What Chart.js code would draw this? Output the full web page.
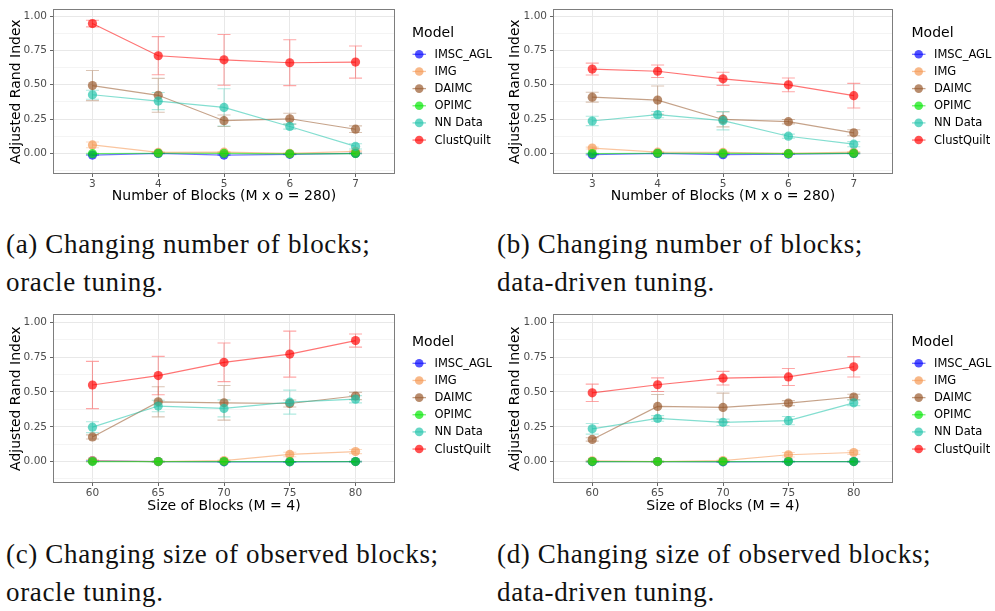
<!DOCTYPE html>
<html><head><meta charset="utf-8">
<script src="https://cdn.jsdelivr.net/npm/chart.js@4.4.1/dist/chart.umd.min.js"></script>
<style>
body{margin:0;background:#fff;width:995px;height:611px;position:relative;overflow:hidden;}
canvas{position:absolute;}
.cap{position:absolute;font-family:"Liberation Serif",serif;font-size:27px;letter-spacing:0.65px;color:#111;line-height:38px;white-space:nowrap;}
</style></head><body>
<canvas id="ca" width="495" height="207" style="left:0;top:0"></canvas>
<canvas id="cb" width="500" height="207" style="left:495px;top:0"></canvas>
<canvas id="cc" width="495" height="212" style="left:0;top:305px"></canvas>
<canvas id="cd" width="500" height="212" style="left:495px;top:305px"></canvas>
<div class="cap" style="left:6px;top:225px">(a) Changing number of blocks;<br>oracle tuning.</div>
<div class="cap" style="left:497px;top:225px">(b) Changing number of blocks;<br>data-driven tuning.</div>
<div class="cap" style="left:6px;top:535px">(c) Changing size of observed blocks;<br>oracle tuning.</div>
<div class="cap" style="left:497px;top:535px">(d) Changing size of observed blocks;<br>data-driven tuning.</div>
<script>
// ---------- data ----------
const models = ['IMSC_AGL', 'IMG', 'DAIMC', 'OPIMC', 'NN Data', 'ClustQuilt'];
const blockCounts = [3, 4, 5, 6, 7];
const blockSizes = [60, 65, 70, 75, 80];
const yMajorTicks = [0, 0.25, 0.5, 0.75, 1];
const yMinorTicks = [-0.125, 0.125, 0.375, 0.625, 0.875];

// (a) number of blocks, oracle tuning: means and sd (error half-width)
const aIMSC  = [-0.012, 0.000, -0.012, -0.007, 0.000];
const aIMG   = [0.062, 0.007, 0.009, 0.000, 0.014];
const aDAIMC = [0.494, 0.423, 0.238, 0.252, 0.176];
const aOPIMC = [-0.002, 0.001, 0.000, -0.003, -0.001];
const aNN    = [0.427, 0.381, 0.335, 0.196, 0.051];
const aCQ    = [0.945, 0.711, 0.681, 0.660, 0.665];
const aIMSCsd  = [0.003, 0.002, 0.003, 0.002, 0.002];
const aIMGsd   = [0.021, 0.004, 0.004, 0.003, 0.004];
const aDAIMCsd = [0.110, 0.123, 0.042, 0.040, 0.024];
const aOPIMCsd = [0.002, 0.002, 0.002, 0.002, 0.002];
const aNNsd    = [0.033, 0.062, 0.136, 0.019, 0.019];
const aCQsd    = [0.024, 0.139, 0.185, 0.167, 0.117];

// (b) number of blocks, data-driven tuning
const bIMSC  = [-0.009, 0.000, -0.009, -0.005, 0.000];
const bIMG   = [0.039, 0.009, 0.007, 0.000, 0.009];
const bDAIMC = [0.409, 0.388, 0.247, 0.231, 0.150];
const bOPIMC = [-0.001, 0.001, 0.000, -0.002, 0.000];
const bNN    = [0.236, 0.282, 0.238, 0.125, 0.067];
const bCQ    = [0.614, 0.598, 0.543, 0.499, 0.420];
const bIMSCsd  = [0.002, 0.002, 0.002, 0.002, 0.002];
const bIMGsd   = [0.007, 0.004, 0.004, 0.003, 0.004];
const bDAIMCsd = [0.036, 0.103, 0.054, 0.016, 0.022];
const bOPIMCsd = [0.002, 0.002, 0.002, 0.002, 0.002];
const bNNsd    = [0.034, 0.023, 0.067, 0.015, 0.019];
const bCQsd    = [0.043, 0.046, 0.048, 0.050, 0.090];

// (c) size of blocks, oracle tuning
const cIMSC  = [0.005, 0.000, -0.002, -0.002, 0.000];
const cIMG   = [0.007, 0.000, 0.007, 0.051, 0.072];
const cDAIMC = [0.177, 0.429, 0.422, 0.417, 0.471];
const cOPIMC = [0.000, 0.000, 0.000, -0.001, 0.000];
const cNN    = [0.247, 0.399, 0.382, 0.427, 0.448];
const cCQ    = [0.550, 0.618, 0.713, 0.772, 0.869];
const cIMSCsd  = [0.002, 0.002, 0.002, 0.002, 0.002];
const cIMGsd   = [0.008, 0.002, 0.004, 0.016, 0.015];
const cDAIMCsd = [0.015, 0.108, 0.124, 0.025, 0.026];
const cOPIMCsd = [0.002, 0.002, 0.002, 0.002, 0.002];
const cNNsd    = [0.039, 0.041, 0.061, 0.086, 0.026];
const cCQsd    = [0.170, 0.138, 0.139, 0.165, 0.047];

// (d) size of blocks, data-driven tuning
const dIMSC  = [0.000, 0.000, -0.002, 0.000, 0.000];
const dIMG   = [0.005, 0.000, 0.007, 0.049, 0.065];
const dDAIMC = [0.159, 0.396, 0.389, 0.420, 0.464];
const dOPIMC = [0.000, 0.000, 0.000, 0.000, 0.000];
const dNN    = [0.235, 0.310, 0.282, 0.294, 0.422];
const dCQ    = [0.494, 0.552, 0.599, 0.608, 0.681];
const dIMSCsd  = [0.002, 0.002, 0.002, 0.002, 0.002];
const dIMGsd   = [0.004, 0.002, 0.004, 0.016, 0.013];
const dDAIMCsd = [0.012, 0.086, 0.103, 0.018, 0.020];
const dOPIMCsd = [0.002, 0.002, 0.002, 0.002, 0.002];
const dNNsd    = [0.038, 0.020, 0.023, 0.030, 0.020];
const dCQsd    = [0.062, 0.049, 0.049, 0.061, 0.073];

// ---------- styling ----------
const FONT = '"DejaVu Sans", sans-serif';
const baseColors = [[0,0,255],[245,150,80],[150,85,40],[0,230,0],[30,195,170],[255,0,0]];
const rgba = (c, a) => `rgba(${c[0]},${c[1]},${c[2]},${a})`;
const near = (v, arr) => arr.some(t => Math.abs(t - v) < 1e-6);

const errorBars = {
  id: 'errorBars',
  beforeDatasetsDraw(chart) {
    const ctx = chart.ctx, ys = chart.scales.y;
    ctx.save();
    chart.data.datasets.forEach((ds, i) => {
      const meta = chart.getDatasetMeta(i);
      ctx.strokeStyle = ds.errColor;
      ctx.lineWidth = 1.1;
      meta.data.forEach((pt, j) => {
        const m = ds.data[j].y, s = ds.sd[j];
        const y1 = ys.getPixelForValue(m + s), y2 = ys.getPixelForValue(m - s);
        ctx.beginPath();
        ctx.moveTo(pt.x, y1); ctx.lineTo(pt.x, y2);
        ctx.moveTo(pt.x - 6.5, y1); ctx.lineTo(pt.x + 6.5, y1);
        ctx.moveTo(pt.x - 6.5, y2); ctx.lineTo(pt.x + 6.5, y2);
        ctx.stroke();
      });
    });
    ctx.restore();
  }
};

const panelFrame = {
  id: 'panelFrame',
  afterDatasetsDraw(chart) {
    const a = chart.chartArea, ctx = chart.ctx;
    ctx.save();
    ctx.strokeStyle = '#7d7d7d';
    ctx.lineWidth = 1;
    ctx.strokeRect(Math.round(a.left) + 0.5, Math.round(a.top) + 0.5, Math.round(a.right - a.left) - 1, Math.round(a.bottom - a.top) - 1);
    ctx.restore();
  }
};

const ggLegend = {
  id: 'ggLegend',
  afterDraw(chart, args, o) {
    const ctx = chart.ctx;
    const x0 = chart.chartArea.right + o.dx;
    ctx.save();
    ctx.textBaseline = 'middle';
    ctx.textAlign = 'left';
    ctx.fillStyle = '#000';
    ctx.font = '14px ' + FONT;
    ctx.fillText('Model', x0, o.titleY);
    ctx.font = '11.5px ' + FONT;
    chart.data.datasets.forEach((ds, i) => {
      const y = o.firstY + i * o.step;
      ctx.strokeStyle = ds.borderColor;
      ctx.lineWidth = 1.3;
      ctx.beginPath(); ctx.moveTo(x0 + 0.5, y); ctx.lineTo(x0 + 14, y); ctx.stroke();
      ctx.fillStyle = ds.pointBackgroundColor;
      ctx.beginPath(); ctx.arc(x0 + 7.2, y, 4.3, 0, Math.PI * 2); ctx.fill();
      ctx.fillStyle = '#000';
      ctx.fillText(ds.label, x0 + 22.5, y + 0.5);
    });
    ctx.restore();
  }
};

function makeChart(id, p) {
  const datasets = models.map((m, i) => ({
    label: m,
    data: p.xs.map((x, j) => ({x: x, y: p.means[i][j]})),
    sd: p.sds[i],
    borderColor: rgba(baseColors[i], 0.55),
    backgroundColor: rgba(baseColors[i], 0.68),
    pointBackgroundColor: rgba(baseColors[i], 0.68),
    pointBorderWidth: 0,
    pointRadius: 4.6,
    borderWidth: 1.2,
    errColor: rgba(baseColors[i], 0.35),
    order: models.length - i,
    tension: 0
  }));
  return new Chart(document.getElementById(id), {
    type: 'line',
    data: {datasets},
    plugins: [errorBars, panelFrame, ggLegend],
    options: {
      responsive: false,
      animation: false,
      events: [],
      layout: {padding: {top: p.padTop, right: p.padRight, left: 0, bottom: 0}},
      plugins: {
        legend: {display: false},
        tooltip: {enabled: false},
        ggLegend: p.legend
      },
      scales: {
        x: {
          type: 'linear', min: p.xMin, max: p.xMax,
          afterBuildTicks: s => { s.ticks = p.xs.map(v => ({value: v})); },
          afterFit: s => { s.height = p.xHeight; },
          border: {display: false},
          grid: {color: '#e8e8e8', lineWidth: 1, tickLength: 3, tickColor: '#666', drawTicks: true},
          ticks: {color: '#4d4d4d', font: {family: FONT, size: 10.5, lineHeight: 1.2}, padding: 1, maxRotation: 0, autoSkip: false,
                  callback: v => String(v)},
          title: {display: true, text: p.xTitle, color: '#000', font: {family: FONT, size: 14, lineHeight: 1.2}, padding: {top: 0, bottom: 2}}
        },
        y: {
          type: 'linear', min: p.yMin, max: p.yMax,
          afterBuildTicks: s => { s.ticks = yMinorTicks.concat(yMajorTicks).sort((a, b) => a - b).map(v => ({value: v})); },
          afterFit: s => { s.width = p.yWidth; },
          border: {display: false},
          grid: {
            color: c => near(c.tick.value, yMajorTicks) ? '#e8e8e8' : '#f1f1f1',
            lineWidth: c => near(c.tick.value, yMajorTicks) ? 1 : 0.8,
            tickLength: 3,
            tickColor: c => near(c.tick.value, yMajorTicks) ? '#666' : 'rgba(0,0,0,0)',
            drawTicks: true
          },
          ticks: {color: '#4d4d4d', font: {family: FONT, size: 10.5, lineHeight: 1.2}, padding: 3, autoSkip: false,
                  callback: v => near(v, yMajorTicks) ? v.toFixed(2) : ''},
          title: {display: true, text: 'Adjusted Rand Index', color: '#000', font: {family: FONT, size: 14, lineHeight: 1.2}, padding: {top: p.yTitlePad, bottom: 0}}
        }
      }
    }
  });
}

makeChart('ca', {
  xs: blockCounts, xMin: 2.4, xMax: 7.6, yMin: -0.15, yMax: 1.049,
  means: [aIMSC, aIMG, aDAIMC, aOPIMC, aNN, aCQ], sds: [aIMSCsd, aIMGsd, aDAIMCsd, aOPIMCsd, aNNsd, aCQsd],
  padTop: 1, padRight: 100, yWidth: 53, xHeight: 33, yTitlePad: 8,
  xTitle: 'Number of Blocks (M x o = 280)', legend: {dx: 17, titleY: 33, firstY: 54.3, step: 17.15}
});
makeChart('cb', {
  xs: blockCounts, xMin: 2.4, xMax: 7.6, yMin: -0.15, yMax: 1.049,
  means: [bIMSC, bIMG, bDAIMC, bOPIMC, bNN, bCQ], sds: [bIMSCsd, bIMGsd, bDAIMCsd, bOPIMCsd, bNNsd, bCQsd],
  padTop: 1, padRight: 102, yWidth: 58, xHeight: 33, yTitlePad: 11.5,
  xTitle: 'Number of Blocks (M x o = 280)', legend: {dx: 18.5, titleY: 33, firstY: 54.3, step: 17.15}
});
makeChart('cc', {
  xs: blockSizes, xMin: 57, xMax: 83, yMin: -0.154, yMax: 1.058,
  means: [cIMSC, cIMG, cDAIMC, cOPIMC, cNN, cCQ], sds: [cIMSCsd, cIMGsd, cDAIMCsd, cOPIMCsd, cNNsd, cCQsd],
  padTop: 5, padRight: 100, yWidth: 53, xHeight: 34, yTitlePad: 8,
  xTitle: 'Size of Blocks (M = 4)', legend: {dx: 17, titleY: 37, firstY: 58.3, step: 17.15}
});
makeChart('cd', {
  xs: blockSizes, xMin: 57, xMax: 83, yMin: -0.154, yMax: 1.058,
  means: [dIMSC, dIMG, dDAIMC, dOPIMC, dNN, dCQ], sds: [dIMSCsd, dIMGsd, dDAIMCsd, dOPIMCsd, dNNsd, dCQsd],
  padTop: 5, padRight: 102, yWidth: 58, xHeight: 34, yTitlePad: 11.5,
  xTitle: 'Size of Blocks (M = 4)', legend: {dx: 18.5, titleY: 37, firstY: 58.3, step: 17.15}
});
</script>
</body></html>
